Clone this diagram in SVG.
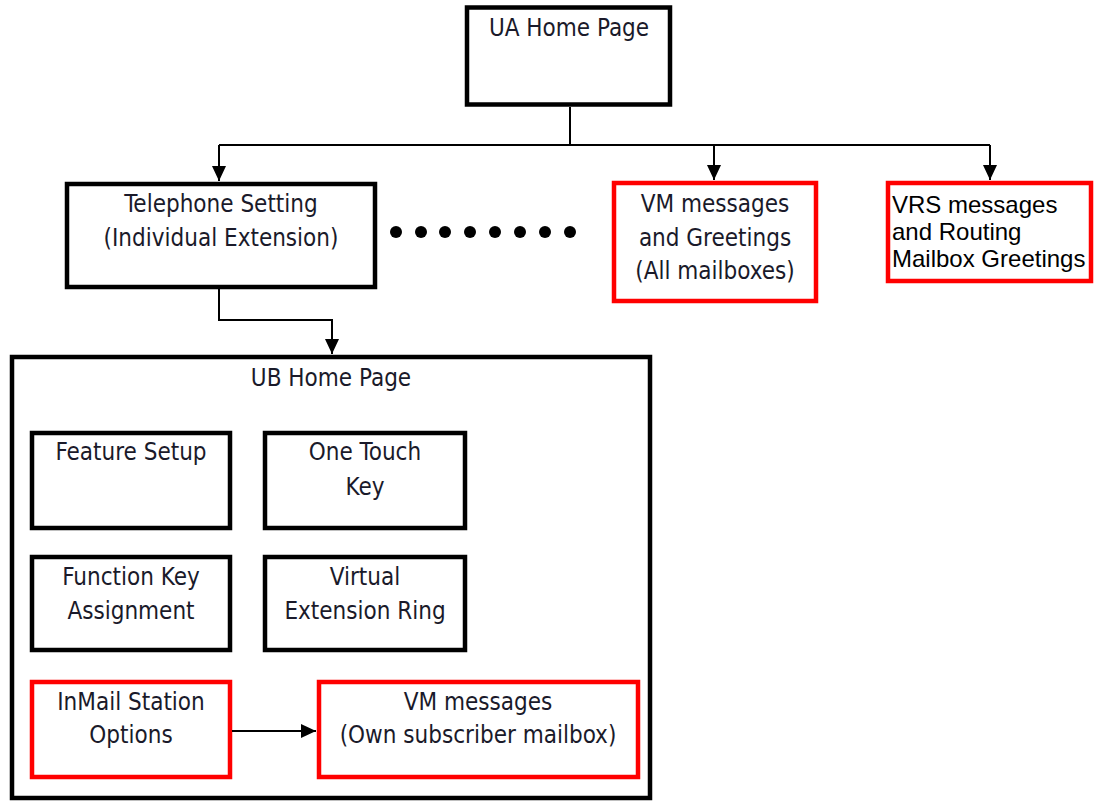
<svg xmlns="http://www.w3.org/2000/svg" width="1095" height="805" viewBox="0 0 1095 805">
<style>
.bk{fill:#fff;stroke:#000;stroke-width:4.5}
.rd{fill:#fff;stroke:#ff0000;stroke-width:4.5}
.t{font-family:"DejaVu Sans Condensed","DejaVu Sans",sans-serif;font-size:24px;fill:#1a1a2a;text-anchor:middle}
.a{font-family:"Liberation Sans",Arial,sans-serif;font-size:24px;fill:#000}
.c{fill:none;stroke:#000;stroke-width:2}
</style>
<defs>
<marker id="ah" viewBox="0 0 15 14" refX="15" refY="7" markerWidth="15" markerHeight="14" markerUnits="userSpaceOnUse" orient="auto">
<path d="M0,0 L15,7 L0,14 Z" fill="#000"/>
</marker>
</defs>
<rect x="0" y="0" width="1095" height="805" fill="#fff"/>
<g id="ua">
<rect class="bk" x="467" y="7.5" width="203" height="97" stroke-width="5"/>
<text class="t" x="569" y="36">UA Home Page</text>
</g>
<g id="telephone">
<rect class="bk" x="67" y="184" width="308" height="103"/>
<text class="t" x="221" y="212">Telephone Setting</text>
<text class="t" x="221" y="246">(Individual Extension)</text>
</g>
<g id="dots" fill="#000">
<circle cx="396" cy="232" r="6"/><circle cx="421" cy="232" r="6"/><circle cx="445" cy="232" r="6"/><circle cx="470" cy="232" r="6"/><circle cx="495" cy="232" r="6"/><circle cx="520" cy="232" r="6"/><circle cx="545" cy="232" r="6"/><circle cx="570" cy="232" r="6"/>
</g>
<g id="vm-all">
<rect class="rd" x="614" y="183" width="202" height="118"/>
<text class="t" x="715" y="212">VM messages</text>
<text class="t" x="715" y="246">and Greetings</text>
<text class="t" x="715" y="279">(All mailboxes)</text>
</g>
<g id="vrs">
<rect class="rd" x="888" y="183" width="203" height="98"/>
<text class="a" x="892" y="213">VRS messages</text>
<text class="a" x="892" y="240">and Routing</text>
<text class="a" x="892" y="267">Mailbox Greetings</text>
</g>
<g id="ub">
<rect class="bk" x="12" y="357" width="638" height="441"/>
<text class="t" x="331" y="386">UB Home Page</text>
</g>
<g id="feature">
<rect class="bk" x="32" y="433" width="198" height="95"/>
<text class="t" x="131" y="460">Feature Setup</text>
</g>
<g id="onetouch">
<rect class="bk" x="265" y="433" width="200" height="95"/>
<text class="t" x="365" y="460">One Touch</text>
<text class="t" x="365" y="495">Key</text>
</g>
<g id="function">
<rect class="bk" x="32" y="557" width="198" height="93"/>
<text class="t" x="131" y="585">Function Key</text>
<text class="t" x="131" y="619">Assignment</text>
</g>
<g id="virtual">
<rect class="bk" x="265" y="557" width="200" height="93"/>
<text class="t" x="365" y="585">Virtual</text>
<text class="t" x="365" y="619">Extension Ring</text>
</g>
<g id="inmail">
<rect class="rd" x="32" y="682" width="198" height="95"/>
<text class="t" x="131" y="710">InMail Station</text>
<text class="t" x="131" y="743">Options</text>
</g>
<g id="vm-own">
<rect class="rd" x="319" y="682" width="319" height="95"/>
<text class="t" x="478" y="710">VM messages</text>
<text class="t" x="478" y="743">(Own subscriber mailbox)</text>
</g>
<g id="connectors">
<path class="c" d="M570,107 V145"/>
<path class="c" d="M219,145 H990"/>
<path class="c" d="M219,145 V181" marker-end="url(#ah)"/>
<path class="c" d="M714,145 V180" marker-end="url(#ah)"/>
<path class="c" d="M990,145 V180" marker-end="url(#ah)"/>
<path class="c" d="M219,289 V320 H332 V354" marker-end="url(#ah)"/>
<path class="c" d="M232,731 H316" marker-end="url(#ah)"/>
</g>
</svg>
